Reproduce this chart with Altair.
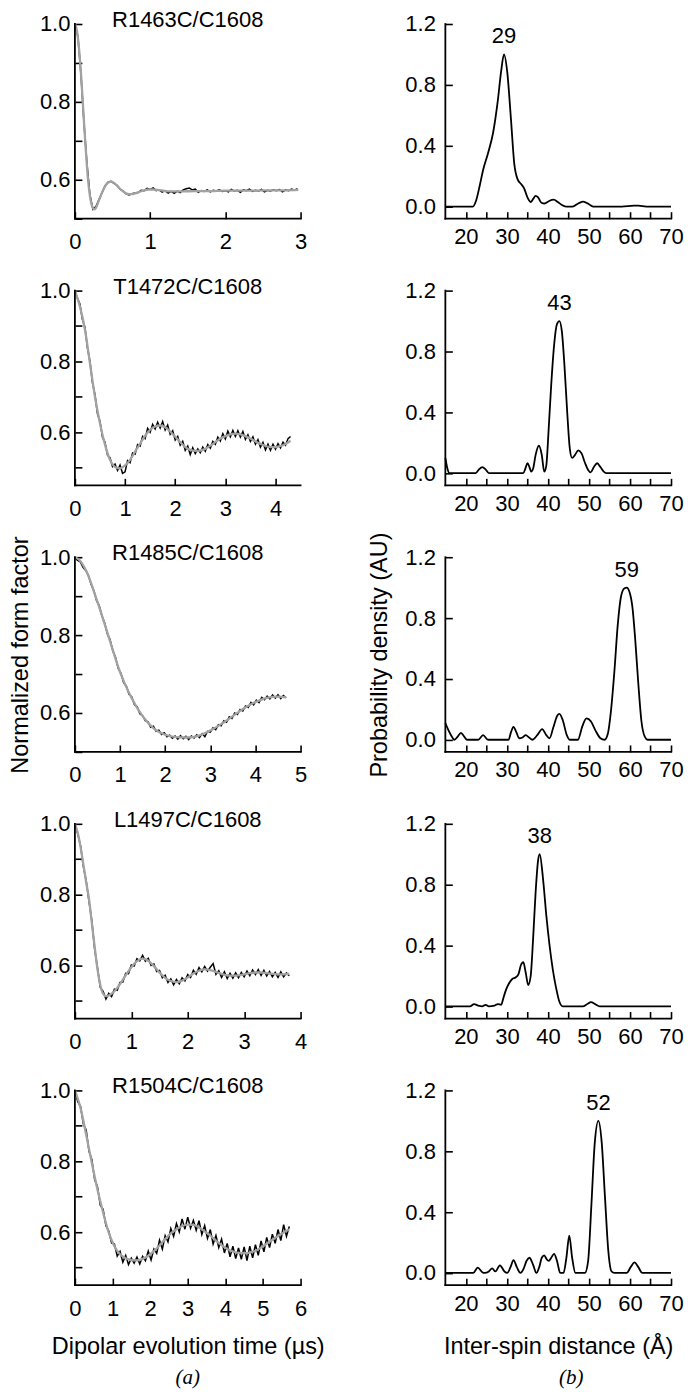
import altair as alt
import pandas as pd

FONT = "Liberation Sans"
SERIF = "Liberation Serif"

PANEL_NAMES = ["R1463C/C1608", "T1472C/C1608", "R1485C/C1608", "L1497C/C1608", "R1504C/C1608"]
T_MAX = [3, 4.5, 5, 4, 6]
Y_MIN = [0.5, 0.45, 0.5, 0.45, 0.45]
Y_MAX = 1.0

X_TICKS = [
    [0, 0.5, 1, 1.5, 2, 2.5, 3],
    [0, 0.5, 1, 1.5, 2, 2.5, 3, 3.5, 4, 4.5],
    [0, 0.5, 1, 1.5, 2, 2.5, 3, 3.5, 4, 4.5, 5],
    [0, 0.5, 1, 1.5, 2, 2.5, 3, 3.5, 4],
    [0, 0.5, 1, 1.5, 2, 2.5, 3, 3.5, 4, 4.5, 5, 5.5, 6],
]
Y_TICKS = [0.5, 0.6, 0.7, 0.8, 0.9, 1.0]
Y_TICK_LABELS = ["0.6", "0.8", "1.0"]

R_TICKS = [20, 25, 30, 35, 40, 45, 50, 55, 60, 65, 70]
P_TICKS = [0.0, 0.4, 0.8, 1.2]
R_DOMAIN = [15, 70]
P_DOMAIN = [-0.08, 1.2]

X_TITLE_A = "Dipolar evolution time (µs)"
X_TITLE_B = "Inter-spin distance (Å)"
Y_TITLE_A = "Normalized form factor"
Y_TITLE_B = "Probability density (AU)"
PART_LABELS = ["(a)", "(b)"]

# ---- time-domain traces (raw data, evenly sampled with the given step, in µs) ----
DATA_STEP = [0.04, 0.05, 0.06, 0.05, 0.075]
DATA_1 = [1.000, 0.968, 0.872, 0.748, 0.642, 0.561, 0.524, 0.531, 0.549, 0.566, 0.584, 0.594, 0.596,
          0.591, 0.586, 0.576, 0.571, 0.564, 0.561, 0.564, 0.566, 0.567, 0.573, 0.572, 0.578, 0.575,
          0.579, 0.572, 0.574, 0.568, 0.572, 0.566, 0.570, 0.565, 0.571, 0.567, 0.574, 0.577, 0.579,
          0.574, 0.576, 0.568, 0.572, 0.570, 0.574, 0.569, 0.573, 0.571, 0.574, 0.570, 0.572, 0.569,
          0.575, 0.571, 0.573, 0.568, 0.574, 0.572, 0.576, 0.570, 0.573, 0.571, 0.575, 0.569, 0.573,
          0.571, 0.574, 0.572, 0.575, 0.569, 0.574, 0.572, 0.576, 0.573, 0.577]
DATA_2 = [1.000, 0.978, 0.962, 0.918, 0.897, 0.838, 0.801, 0.740, 0.706, 0.652, 0.631, 0.586, 0.572,
          0.535, 0.528, 0.503, 0.510, 0.492, 0.507, 0.484, 0.488, 0.520, 0.514, 0.541, 0.538, 0.565,
          0.561, 0.588, 0.582, 0.611, 0.600, 0.622, 0.609, 0.628, 0.612, 0.630, 0.606, 0.620, 0.594,
          0.604, 0.578, 0.588, 0.563, 0.574, 0.549, 0.561, 0.537, 0.556, 0.540, 0.553, 0.542, 0.558,
          0.546, 0.565, 0.555, 0.574, 0.566, 0.586, 0.575, 0.596, 0.581, 0.603, 0.587, 0.605, 0.588,
          0.604, 0.586, 0.602, 0.580, 0.593, 0.574, 0.587, 0.566, 0.579, 0.558, 0.571, 0.550, 0.566,
          0.549, 0.566, 0.552, 0.568, 0.556, 0.572, 0.563, 0.582, 0.588]
DATA_3 = [0.998, 0.992, 0.988, 0.974, 0.966, 0.953, 0.930, 0.914, 0.889, 0.875, 0.849, 0.831, 0.803,
          0.788, 0.760, 0.743, 0.714, 0.702, 0.678, 0.669, 0.648, 0.641, 0.621, 0.616, 0.598, 0.593,
          0.580, 0.577, 0.563, 0.566, 0.553, 0.556, 0.545, 0.549, 0.539, 0.543, 0.535, 0.541, 0.533,
          0.542, 0.534, 0.540, 0.532, 0.541, 0.536, 0.544, 0.537, 0.547, 0.539, 0.553, 0.551, 0.562,
          0.557, 0.570, 0.567, 0.580, 0.576, 0.590, 0.586, 0.600, 0.596, 0.609, 0.605, 0.618, 0.614,
          0.627, 0.621, 0.633, 0.627, 0.640, 0.634, 0.643, 0.636, 0.646, 0.638, 0.647, 0.637, 0.645,
          0.639]
DATA_4 = [1.000, 0.972, 0.938, 0.880, 0.839, 0.781, 0.726, 0.646, 0.594, 0.538, 0.527, 0.505, 0.521,
          0.512, 0.533, 0.530, 0.552, 0.553, 0.578, 0.577, 0.601, 0.598, 0.619, 0.613, 0.628, 0.612,
          0.620, 0.600, 0.604, 0.583, 0.586, 0.565, 0.572, 0.552, 0.562, 0.545, 0.560, 0.548, 0.565,
          0.556, 0.574, 0.566, 0.586, 0.575, 0.594, 0.582, 0.597, 0.584, 0.595, 0.605, 0.575, 0.585,
          0.566, 0.582, 0.563, 0.578, 0.564, 0.579, 0.565, 0.580, 0.568, 0.584, 0.571, 0.587, 0.574,
          0.588, 0.572, 0.586, 0.570, 0.583, 0.568, 0.580, 0.566, 0.582, 0.568, 0.579, 0.571]
DATA_5 = [1.000, 0.968, 0.955, 0.905, 0.888, 0.828, 0.805, 0.748, 0.728, 0.676, 0.664, 0.618, 0.603,
          0.569, 0.566, 0.532, 0.545, 0.515, 0.534, 0.508, 0.526, 0.512, 0.529, 0.510, 0.531, 0.519,
          0.546, 0.521, 0.552, 0.540, 0.577, 0.552, 0.590, 0.572, 0.610, 0.588, 0.624, 0.600, 0.637,
          0.608, 0.642, 0.611, 0.633, 0.605, 0.632, 0.593, 0.618, 0.582, 0.607, 0.566, 0.590, 0.556,
          0.580, 0.541, 0.568, 0.530, 0.560, 0.525, 0.555, 0.523, 0.558, 0.519, 0.560, 0.527, 0.564,
          0.534, 0.575, 0.544, 0.585, 0.556, 0.594, 0.568, 0.607, 0.576, 0.621, 0.588, 0.616]
DATA = [DATA_1, DATA_2, DATA_3, DATA_4, DATA_5]

# ---- fitted curves (time, value) ----
FIT_T_1 = [0, 0.02, 0.04, 0.06, 0.08, 0.1, 0.12, 0.14, 0.16, 0.18, 0.2, 0.22, 0.24, 0.26, 0.28, 0.32,
           0.36, 0.4, 0.44, 0.48, 0.52, 0.56, 0.6, 0.64, 0.68, 0.72, 0.76, 0.8, 0.86, 0.92, 0.98, 1.04,
           1.1, 1.2, 1.3, 1.4, 1.6, 1.8, 2.0, 2.2, 2.4, 2.6, 2.8, 2.97]
FIT_V_1 = [1.0, 0.99, 0.965, 0.925, 0.875, 0.815, 0.752, 0.69, 0.635, 0.59, 0.558, 0.538, 0.527, 0.524,
           0.528, 0.547, 0.567, 0.583, 0.592, 0.595, 0.592, 0.585, 0.577, 0.570, 0.565, 0.563, 0.563,
           0.565, 0.569, 0.573, 0.575, 0.575, 0.574, 0.571, 0.570, 0.570, 0.571, 0.571, 0.572, 0.572,
           0.572, 0.573, 0.573, 0.574]
FIT_T_2 = [0, 0.1, 0.2, 0.3, 0.4, 0.5, 0.6, 0.7, 0.8, 0.9, 1.0, 1.1, 1.2, 1.3, 1.4, 1.5, 1.6, 1.7, 1.8,
           1.9, 2.0, 2.1, 2.2, 2.3, 2.4, 2.5, 2.6, 2.7, 2.8, 2.9, 3.0, 3.1, 3.2, 3.3, 3.4, 3.5, 3.6,
           3.7, 3.8, 3.9, 4.0, 4.1, 4.2, 4.3]
FIT_V_2 = [1.0, 0.955, 0.89, 0.795, 0.70, 0.625, 0.565, 0.522, 0.502, 0.498, 0.506, 0.522, 0.545,
           0.568, 0.59, 0.607, 0.616, 0.619, 0.614, 0.602, 0.587, 0.572, 0.558, 0.55, 0.547, 0.548,
           0.553, 0.562, 0.572, 0.582, 0.589, 0.594, 0.596, 0.594, 0.589, 0.582, 0.574, 0.567, 0.561,
           0.558, 0.558, 0.561, 0.567, 0.576]
FIT_T_3 = [0, 0.1, 0.25, 0.5, 0.75, 1.0, 1.25, 1.5, 1.75, 2.0, 2.25, 2.5, 2.75, 3.0, 3.25, 3.5, 3.75,
           4.0, 4.25, 4.5, 4.68]
FIT_V_3 = [1.0, 0.993, 0.965, 0.885, 0.795, 0.705, 0.64, 0.592, 0.56, 0.544, 0.538, 0.537, 0.542,
           0.555, 0.572, 0.592, 0.612, 0.628, 0.639, 0.642, 0.640]
FIT_T_4 = [0, 0.05, 0.1, 0.15, 0.2, 0.25, 0.3, 0.35, 0.4, 0.45, 0.5, 0.55, 0.6, 0.7, 0.8, 0.9, 1.0,
           1.1, 1.2, 1.3, 1.4, 1.5, 1.6, 1.7, 1.8, 1.9, 2.0, 2.1, 2.2, 2.3, 2.4, 2.5, 2.6, 2.7, 2.8,
           2.9, 3.0, 3.1, 3.2, 3.3, 3.4, 3.5, 3.6, 3.7, 3.8]
FIT_V_4 = [1.0, 0.975, 0.935, 0.885, 0.835, 0.787, 0.72, 0.653, 0.59, 0.545, 0.52, 0.513, 0.515,
           0.527, 0.547, 0.572, 0.595, 0.612, 0.619, 0.613, 0.598, 0.58, 0.565, 0.556, 0.553, 0.557,
           0.566, 0.577, 0.585, 0.589, 0.587, 0.582, 0.576, 0.572, 0.571, 0.572, 0.575, 0.578, 0.58,
           0.58, 0.578, 0.576, 0.575, 0.575, 0.576]
FIT_T_5 = [0, 0.15, 0.3, 0.45, 0.6, 0.75, 0.9, 1.05, 1.2, 1.35, 1.5, 1.65, 1.8, 1.95, 2.1, 2.25, 2.4,
           2.55, 2.7, 2.85, 3.0, 3.15, 3.3, 3.45, 3.6, 3.75, 3.9, 4.05, 4.2, 4.35, 4.5, 4.65, 4.8,
           4.95, 5.1, 5.25, 5.4, 5.55, 5.7]
FIT_V_5 = [1.0, 0.95, 0.875, 0.795, 0.72, 0.655, 0.598, 0.56, 0.537, 0.526, 0.521, 0.52, 0.524, 0.533,
           0.546, 0.562, 0.58, 0.596, 0.608, 0.617, 0.621, 0.62, 0.613, 0.602, 0.59, 0.576, 0.563,
           0.552, 0.545, 0.541, 0.54, 0.542, 0.547, 0.556, 0.567, 0.578, 0.589, 0.599, 0.607]
FIT_T = [FIT_T_1, FIT_T_2, FIT_T_3, FIT_T_4, FIT_T_5]
FIT_V = [FIT_V_1, FIT_V_2, FIT_V_3, FIT_V_4, FIT_V_5]

# ---- distance distributions (Å, AU) ----
R_1 = [15, 21.7, 22.5, 23.4, 24.2, 25.4, 26.6, 27.8, 28.6, 29.3, 30.1, 31.0, 31.8, 32.6, 33.4, 34.2,
       35.0, 35.8, 36.4, 37.0, 37.6, 38.4, 39.2, 40.2, 41.4, 42.4, 43.4, 44.4, 46.0, 47.4, 48.6, 50.0,
       51.0, 58, 61, 62, 64, 70]
P_1 = [0, 0, 0.04, 0.14, 0.24, 0.35, 0.48, 0.70, 0.89, 1.0, 0.88, 0.57, 0.28, 0.18, 0.15, 0.12, 0.06,
       0.03, 0.05, 0.07, 0.06, 0.025, 0.02, 0.035, 0.045, 0.03, 0.01, 0.0, 0.0, 0.02, 0.032, 0.015,
       0.0, 0.0, 0.006, 0.006, 0, 0]
R_2 = [15, 15.5, 16, 22.4, 23.2, 24.0, 24.8, 25.6, 34.0, 34.5, 35.0, 35.5, 35.9, 36.4, 37.0, 37.8,
       38.5, 39.1, 39.6, 40.2, 40.8, 41.5, 42.2, 42.8, 43.4, 44.0, 44.7, 45.3, 45.9, 46.6, 47.4, 48.2,
       49.0, 49.8, 50.4, 51.2, 52.0, 52.8, 53.6, 54.2, 70]
P_2 = [0.10, 0.03, 0.0, 0.0, 0.025, 0.04, 0.025, 0.0, 0.0, 0.03, 0.065, 0.04, 0.01, 0.03, 0.12, 0.18,
       0.12, 0.01, 0.05, 0.30, 0.58, 0.84, 0.98, 1.0, 0.93, 0.72, 0.40, 0.17, 0.10, 0.12, 0.15, 0.13,
       0.07, 0.02, 0.005, 0.04, 0.065, 0.04, 0.01, 0.0, 0.0]
R_3 = [15, 15.8, 16.6, 17.2, 18.0, 18.8, 19.6, 20.3, 23.0, 24.2, 25.4, 30.4, 31.0, 31.6, 32.3, 33.0,
       33.8, 34.6, 35.4, 36.2, 37.4, 38.6, 39.6, 40.4, 41.3, 42.3, 42.8, 43.6, 44.6, 45.3, 47.3, 48.4,
       49.4, 50.5, 51.6, 52.8, 53.8, 54.6, 55.4, 56.2, 57.0, 57.8, 58.6, 59.2, 59.9, 60.6, 61.3, 62.0,
       62.8, 63.6, 64.3, 70]
P_3 = [0.11, 0.06, 0.02, 0.0, 0.02, 0.045, 0.02, 0.0, 0.0, 0.03, 0.0, 0.0, 0.05, 0.085, 0.05, 0.01,
       0.015, 0.03, 0.015, 0.0, 0.03, 0.07, 0.03, 0.01, 0.08, 0.16, 0.17, 0.13, 0.03, 0.0, 0.0, 0.09,
       0.14, 0.12, 0.06, 0.01, 0.0, 0.04, 0.2, 0.45, 0.75, 0.94, 0.995, 1.0, 0.97, 0.87, 0.65, 0.38,
       0.12, 0.02, 0.0, 0.0]
R_4 = [15, 21.0, 22.0, 23.0, 24.0, 24.8, 25.6, 27.0, 27.8, 28.6, 29.2, 29.8, 30.5, 31.3, 32.1, 32.8,
       33.4, 34.0, 34.6, 35.2, 35.8, 36.4, 37.0, 37.6, 38.0, 38.8, 39.6, 40.4, 41.2, 42.0, 42.8, 43.6,
       48.5, 49.6, 50.5, 51.5, 52.6, 70]
P_4 = [0, 0, 0.015, 0.005, 0.0, 0.01, 0.0, 0.005, 0.015, 0.01, 0.06, 0.11, 0.15, 0.18, 0.19, 0.21,
       0.27, 0.29, 0.22, 0.14, 0.20, 0.45, 0.75, 0.96, 1.0, 0.84, 0.60, 0.40, 0.24, 0.12, 0.03, 0.0,
       0.0, 0.015, 0.028, 0.015, 0.0, 0.0]
R_5 = [15, 21.8, 22.9, 24.0, 24.6, 25.6, 26.4, 27.2, 28.3, 29.4, 30.1, 30.9, 31.6, 32.4, 33.3, 34.1,
       34.8, 35.5, 36.3, 37.2, 37.9, 38.5, 39.1, 39.7, 40.2, 40.8, 41.5, 42.2, 43.0, 43.8, 44.5, 45.2,
       45.9, 46.7, 47.5, 49.0, 49.8, 50.6, 51.4, 52.3, 53.1, 53.9, 54.7, 55.5, 56.2, 59.2, 60.2, 61.1,
       62.0, 63.0, 70]
P_5 = [0, 0, 0.035, 0.005, 0.0, 0.01, 0.03, 0.01, 0.05, 0.01, 0.0, 0.04, 0.085, 0.04, 0.0, 0.03, 0.08,
       0.10, 0.06, 0.0, 0.04, 0.10, 0.115, 0.09, 0.08, 0.10, 0.125, 0.08, 0.0, 0.0, 0.10, 0.245, 0.10,
       0.0, 0.0, 0.0, 0.08, 0.45, 0.85, 1.0, 0.86, 0.5, 0.15, 0.01, 0.0, 0.0, 0.04, 0.07, 0.04, 0.0, 0.0]
R_LIST = [R_1, R_2, R_3, R_4, R_5]
P_LIST = [P_1, P_2, P_3, P_4, P_5]
PEAK_LABELS = ["29", "43", "59", "38", "52"]

W, H = 226, 195
TICK = 7
LABEL_SIZE = 22


def axis(orient, values, fmt, lab_pad, label_expr=None, title=None, title_pad=10):
    """Axis with inward ticks: pulled inside by the tick length, no domain line of its own."""
    kw = dict(orient=orient, values=values, format=fmt, ticks=True, tickSize=TICK, tickWidth=1.6,
              tickColor="black", offset=-TICK, domain=False, labelFont=FONT,
              labelFontSize=LABEL_SIZE, labelColor="black", labelPadding=lab_pad,
              labelFlush=False, labelOverlap=False, labelBound=False, grid=False)
    if label_expr:
        kw["labelExpr"] = label_expr
    if title:
        kw.update(title=title, titleFont=FONT, titleFontSize=23.5, titleFontWeight="normal",
                  titleColor="black", titlePadding=title_pad)
    else:
        kw["title"] = None
    return alt.Axis(**kw)


def frame_layers(xs, ys, ax_x, ax_y, x0, x1, y0, y1):
    fr = pd.DataFrame({"x0": [x0], "x1": [x1], "y0": [y0], "y1": [y1]})
    base = alt.Chart(fr).mark_rule(color="black", strokeWidth=1.8, strokeCap="square")
    left = base.encode(x=alt.X("x0:Q", scale=xs, axis=ax_x), y=alt.Y("y0:Q", scale=ys, axis=ax_y),
                       y2="y1:Q")
    bottom = base.encode(x=alt.X("x0:Q", scale=xs, axis=ax_x), x2="x1:Q",
                         y=alt.Y("y0:Q", scale=ys, axis=ax_y))
    return [left, bottom]


def corner_text(text, y, size, font=FONT, style="normal", baseline="alphabetic", dx=0):
    return alt.Chart(pd.DataFrame({"s": [text]})).mark_text(
        font=font, fontSize=size, fontStyle=style, color="black", baseline=baseline,
        align="center", dx=dx).encode(x=alt.value(W / 2), y=alt.value(y), text="s:N")


def left_panel(i):
    xs = alt.Scale(domain=[0, T_MAX[i]], nice=False, zero=False)
    ys = alt.Scale(domain=[Y_MIN[i], Y_MAX], nice=False, zero=False)
    vals = DATA[i]
    d = pd.DataFrame({"t": [k * DATA_STEP[i] for k in range(len(vals))], "v": vals})
    f = pd.DataFrame({"t": FIT_T[i], "v": FIT_V[i]})
    last = i == 4
    y_expr = "indexof(" + str(Y_TICK_LABELS) + ", datum.label) >= 0 ? datum.label : ''"
    ax_x = axis("bottom", X_TICKS[i], "d", 13, "datum.value % 1 == 0 ? datum.label : ''",
                X_TITLE_A if last else None, 15)
    ax_y = axis("left", Y_TICKS, ".1f", 5, y_expr, Y_TITLE_A if i == 2 else None, 7)
    raw = alt.Chart(d).mark_line(color="black", strokeWidth=1.5).encode(
        x=alt.X("t:Q", scale=xs, axis=ax_x),
        y=alt.Y("v:Q", scale=ys, axis=ax_y),
    )
    fit = alt.Chart(f).mark_line(color="#a2a2a2", strokeWidth=2.3, interpolate="monotone").encode(
        x=alt.X("t:Q", scale=xs, axis=ax_x),
        y=alt.Y("v:Q", scale=ys, axis=ax_y),
    )
    layers = [raw, fit] + frame_layers(xs, ys, ax_x, ax_y, 0, T_MAX[i], Y_MIN[i], Y_MAX)
    layers.append(corner_text(PANEL_NAMES[i], 3, 22))
    if last:
        layers.append(corner_text(PART_LABELS[0], H + 82, 21, SERIF, "italic", "top"))
    return alt.layer(*layers).properties(width=W, height=H)


def right_panel(i):
    xs = alt.Scale(domain=R_DOMAIN, nice=False, zero=False)
    ys = alt.Scale(domain=P_DOMAIN, nice=False, zero=False)
    d = pd.DataFrame({"r": R_LIST[i], "p": P_LIST[i]})
    k = P_LIST[i].index(max(P_LIST[i]))
    lab = pd.DataFrame({"r": [R_LIST[i][k]], "p": [P_LIST[i][k]], "txt": [PEAK_LABELS[i]]})
    last = i == 4
    ax_x = axis("bottom", R_TICKS, "d", 8, "datum.value % 10 == 0 ? datum.label : ''",
                X_TITLE_B if last else None, 20)
    ax_y = axis("left", P_TICKS, ".1f", 10, None, Y_TITLE_B if i == 2 else None, 13)
    line = alt.Chart(d).mark_line(color="black", strokeWidth=1.8, interpolate="monotone").encode(
        x=alt.X("r:Q", scale=xs, axis=ax_x),
        y=alt.Y("p:Q", scale=ys, axis=ax_y),
    )
    text = alt.Chart(lab).mark_text(font=FONT, fontSize=22, color="black", baseline="alphabetic",
                                    dy=-11).encode(
        x=alt.X("r:Q", scale=xs, axis=ax_x),
        y=alt.Y("p:Q", scale=ys, axis=ax_y),
        text="txt:N",
    )
    layers = [line, text] + frame_layers(xs, ys, ax_x, ax_y, R_DOMAIN[0], R_DOMAIN[1],
                                         P_DOMAIN[0], P_DOMAIN[1])
    if last:
        layers.append(corner_text(PART_LABELS[1], H + 82, 21, SERIF, "italic", "top", dx=13))
    return alt.layer(*layers).properties(width=W, height=H)


panels = []
for i in range(5):
    panels.append(left_panel(i))
    panels.append(right_panel(i))

chart = alt.concat(*panels, columns=2, spacing={"row": 72, "column": 145}, bounds="flush").properties(
    padding={"left": 0, "top": 0, "right": 0, "bottom": 0}, background="white"
).configure_view(stroke=None)

chart.save("out.html", embed_options={"renderer": "svg", "actions": False})
